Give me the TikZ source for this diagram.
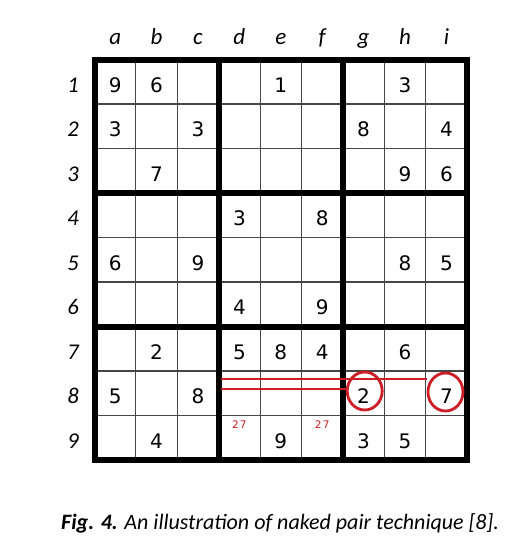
\documentclass[tikz,border=0pt]{standalone}
\usepackage{fontspec}
\usetikzlibrary{shapes.geometric}
\setmainfont{Carlito}
\newfontfamily\djfont{DejaVu Sans}
\definecolor{annred}{RGB}{204,30,36}
\definecolor{thingray}{RGB}{70,70,70}
\begin{document}
\begin{tikzpicture}[x=1pt,y=-1pt,
  thinline/.style={draw=thingray,line width=1.1pt},
  thickline/.style={draw=black,line width=6pt},
  given/.style={font=\djfont\fontsize{20}{24}\selectfont,anchor=base,inner sep=0pt},
  cand/.style={font=\djfont\fontsize{10.5}{12}\selectfont,text=annred,anchor=base,inner sep=0pt},
  collab/.style={font=\fontsize{23}{27}\selectfont\itshape,anchor=base,inner sep=0pt},
  rowlab/.style={font=\fontsize{22.5}{26}\selectfont\itshape,anchor=base,inner sep=0pt},
  redline/.style={draw=annred,line width=2pt},
  redcircle/.style={draw=annred,line width=2.8pt,ellipse,minimum width=35pt,minimum height=38pt,inner sep=0pt}
]
\useasboundingbox (0,0) rectangle (531,555);
\fill[white] (0,0) rectangle (531,555);
\def\xo{94.5}\def\yo{59.5}\def\cw{41.4}\def\ch{44.5}
% thin grid lines
\foreach \i in {1,2,4,5,7,8}{
  \draw[thinline] ({\xo+\i*\cw},\yo) -- ({\xo+\i*\cw},{\yo+9*\ch});
  \draw[thinline] (\xo,{\yo+\i*\ch}) -- ({\xo+9*\cw},{\yo+\i*\ch});
}
% thick grid lines
\foreach \i in {0,3,6,9}{
  \draw[thickline] ({\xo+\i*\cw},{\yo-3}) -- ({\xo+\i*\cw},{\yo+9*\ch+3});
  \draw[thickline] ({\xo-3},{\yo+\i*\ch}) -- ({\xo+9*\cw+3},{\yo+\i*\ch});
}
% column labels
\foreach \l [count=\c from 0] in {a,b,c,d,e,f,g,h,i}{
  \node[collab] (col\l) at ({\xo+(\c+0.5)*\cw},44) {\l};
}
% row labels
\foreach \r in {1,...,9}{
  \node[rowlab] (row\r) at (73,{\yo+(\r-1)*\ch+32.5}) {\r};
}
% givens: column index (0-8), row (1-9), value
\foreach \c/\r/\v in {0/1/9,1/1/6,4/1/1,7/1/3,
  0/2/3,2/2/3,6/2/8,8/2/4,
  1/3/7,7/3/9,8/3/6,
  3/4/3,5/4/8,
  0/5/6,2/5/9,7/5/8,8/5/5,
  3/6/4,5/6/9,
  1/7/2,3/7/5,4/7/8,5/7/4,7/7/6,
  0/8/5,2/8/8,6/8/2,8/8/7,
  1/9/4,4/9/9,6/9/3,7/9/5}{
  \node[given] (g\c\r) at ({\xo+(\c+0.5)*\cw},{\yo+(\r-1)*\ch+32.5}) {\v};
}
% candidates
\node[cand] (candd9) at ({\xo+3.5*\cw},{\yo+8*\ch+12.5}) {2\kern1.2pt7};
\node[cand] (candf9) at ({\xo+5.5*\cw},{\yo+8*\ch+12.5}) {2\kern1.2pt7};
% red annotations
\coordinate (lstartA) at (221,379);
\coordinate (lstartB) at (221,389);
\node[redcircle] (circg) at (364.7,391) {};
\node[redcircle] (circi) at (445.5,392) {};
\draw[redline] (lstartA) -- (circi.west |- lstartA);
\draw[redline] (lstartB) -- (circg.west |- lstartB);
% caption
\node[anchor=base west,inner sep=0pt,font=\fontsize{22}{26}\selectfont] (caption) at (61,529) {\textbf{\textit{Fig. 4.}} \textit{An illustration of naked pair technique [8].}};
\end{tikzpicture}
\end{document}
